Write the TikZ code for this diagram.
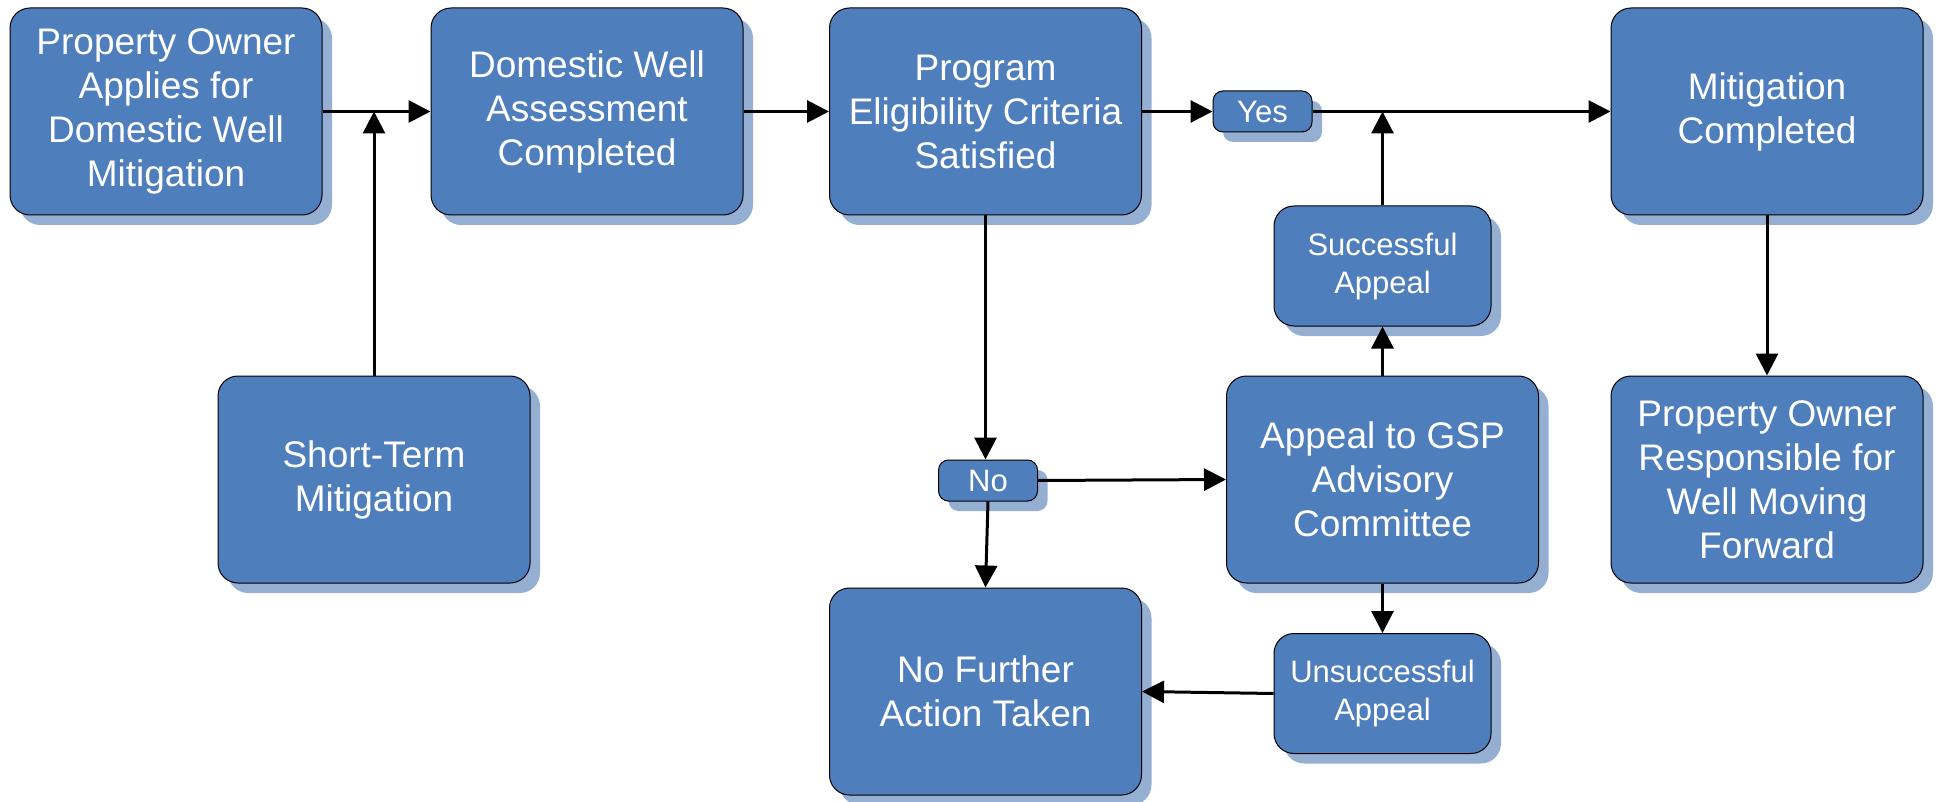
\documentclass[tikz,border=0pt]{standalone}
\usepackage{fontspec}
\setmainfont{Liberation Sans}
\usetikzlibrary{arrows.meta,shadows}
\definecolor{boxblue}{HTML}{4F7EBC}
\definecolor{shadowblue}{HTML}{95AFD2}
\begin{document}
\begin{tikzpicture}[x=1pt,y=-1pt,
 box/.style={draw=black, line width=1pt, fill=boxblue, rounded corners=20pt, text=white, align=center, inner sep=0pt,
   font=\fontsize{37}{44}\selectfont,
   drop shadow={shadow xshift=10pt, shadow yshift=-10pt, fill=shadowblue, opacity=1}},
 big/.style={box, minimum width=312pt, minimum height=207pt},
 mid/.style={box, minimum width=217pt, minimum height=120pt, font=\fontsize{31}{38}\selectfont},
 tag/.style={box, minimum width=99pt, minimum height=41pt, rounded corners=10pt, font=\fontsize{31}{38}\selectfont},
 arr/.style={line width=3pt, -{Triangle[length=22pt,width=22pt]}},
]
\useasboundingbox (0,0) rectangle (1938,802);

\node[big] (b1) at (166,111.5) {Property Owner\\Applies for\\Domestic Well\\Mitigation};
\node[big] (b2) at (587,111.5) {Domestic Well\\Assessment\\Completed};
\node[big] (b3) at (985.5,111.5) {Program\\Eligibility Criteria\\Satisfied};
\node[big] (mc) at (1767,111.5) {Mitigation\\Completed};
\node[big] (st) at (374,479.5) {Short-Term\\Mitigation};
\node[big] (ap) at (1382.5,479.5) {Appeal to GSP\\Advisory\\Committee};
\node[big] (por) at (1767,479.5) {Property Owner\\Responsible for\\Well Moving\\Forward};
\node[big] (nf) at (985.5,691.5) {No Further\\Action Taken};
\node[mid] (sa) at (1382.5,266) {Successful\\Appeal};
\node[mid] (ua) at (1382.5,693.5) {Unsuccessful\\Appeal};
\node[tag] (yes) at (1262.5,111.5) {Yes};
\node[tag] (no) at (988,480.5) {No};

\coordinate (j1) at (st.north |- b1.east);
\coordinate (j2) at (sa.north |- yes.east);
\coordinate (j3) at (b3.south |- no.north);

\draw[arr] (b1.east) -- (b2.west);
\draw[arr] (st.north) -- (j1);
\draw[arr] (b2.east) -- (b3.west);
\draw[arr] (b3.east) -- (yes.west);
\draw[arr] (yes.east) -- (mc.west);
\draw[arr] (sa.north) -- (j2);
\draw[arr] (b3.south) -- (j3);
\draw[arr] (no.east) -- (ap.west);
\draw[arr] (no.south) -- (nf.north);
\draw[arr] (ap.north) -- (sa.south);
\draw[arr] (ap.south) -- (ua.north);
\draw[arr] (ua.west) -- (nf.east);
\draw[arr] (mc.south) -- (por.north);
\end{tikzpicture}
\end{document}
